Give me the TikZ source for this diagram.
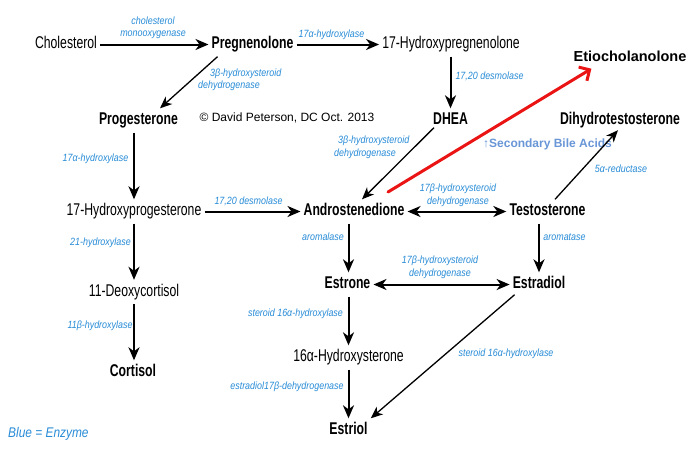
\documentclass[tikz,border=0pt]{standalone}
\usepackage{fontspec}
\setmainfont{Liberation Sans}
\newfontfamily\condfont[FakeStretch=0.72]{Liberation Sans}
\newfontfamily\labfont[FakeStretch=0.85]{Liberation Sans}
\usetikzlibrary{arrows.meta}
\definecolor{enzblue}{RGB}{40,140,215}
\definecolor{bileblue}{RGB}{105,150,215}
\definecolor{redarr}{RGB}{235,20,20}
\begin{document}
\begin{tikzpicture}[x=1pt,y=-1pt,
 mol/.style={font=\condfont\fontsize{17}{20}\selectfont, inner xsep=3pt, inner ysep=4pt, text height=12pt, text depth=4pt, anchor=base},
 bmol/.style={mol, font=\condfont\bfseries\fontsize{17}{20}\selectfont},
 etiostyle/.style={font=\bfseries\fontsize{14.5}{17}\selectfont, inner sep=4pt, text height=11pt, text depth=3pt, anchor=base},
 enz/.style={font=\labfont\itshape\fontsize{10.5}{12.5}\selectfont, text=enzblue, inner sep=0pt, anchor=base, align=center},
 enzl/.style={enz, anchor=base west, align=left},
 arr/.style={line width=2pt, -{Stealth[length=13pt,width=11pt,inset=4pt]}},
 darr/.style={line width=2pt, {Stealth[length=13pt,width=11pt,inset=4pt]}-{Stealth[length=13pt,width=11pt,inset=4pt]}},
 tarr/.style={line width=1.3pt, -{Stealth[length=12pt,width=10pt,inset=3.5pt]}},
 redarrow/.style={line width=3pt, draw=redarr, line cap=round, -{Straight Barb[length=8pt,width=16pt,line width=3pt]}}
]
\fill[white] (0,0) rectangle (700,451);
\useasboundingbox (0,0) rectangle (700,451);

% molecules
\node[mol]  (chol)      at (66,48.5)    {Cholesterol};
\node[bmol] (preg)      at (252.5,48.5) {Pregnenolone};
\node[mol]  (hpreg)     at (451,48.5)   {17-Hydroxypregnenolone};
\node[bmol] (dhea)      at (450.5,124.5){DHEA};
\node[bmol] (prog)      at (138.5,124.5){Progesterone};
\node[mol]  (hprog)     at (134,215.5)  {17-Hydroxyprogesterone};
\node[bmol] (andro)     at (354,215.5)  {Androstenedione};
\node[bmol] (testo)     at (547.5,215.5){Testosterone};
\node[bmol] (estrone)   at (347.5,288.5){Estrone};
\node[bmol] (estradiol) at (539,288.5)  {Estradiol};
\node[mol]  (hest)      at (348.5,361.5){16α-Hydroxysterone};
\node[bmol] (estriol)   at (348.5,434.5){Estriol};
\node[mol]  (deoxy)     at (134,296)    {11-Deoxycortisol};
\node[bmol] (cortisol)  at (133,376.5)  {Cortisol};
\node[bmol] (dht)       at (620,124)    {Dihydrotestosterone};
\node[etiostyle] (etio) at (630,61.5)   {Etiocholanolone};

% other texts
\node[anchor=base, font=\fontsize{12}{14}\selectfont, inner sep=0pt] (copy) at (287,121) {© David Peterson, DC Oct. 2013};
\node[anchor=base, font=\bfseries\fontsize{12}{14}\selectfont, text=bileblue, inner sep=0pt] (bile) at (547.5,147) {↑Secondary Bile Acids};
\node[anchor=base west, font=\labfont\itshape\fontsize{14}{16}\selectfont, text=enzblue, inner sep=0pt] (legend) at (8,437) {Blue = Enzyme};

% enzymes (multi-line: base = last line)
\node[enz] (e1)  at (153,36.5)    {cholesterol\\monooxygenase};
\node[enz] (e2)  at (331.5,37)    {17α-hydroxylase};
\node[enzl] (e3) at (198,88.5)    {\hspace*{12pt}3β-hydroxysteroid\\dehydrogenase};
\node[enz] (e4)  at (489.5,79)    {17,20 desmolase};
\node[enz] (e5)  at (95.5,161.5)  {17α-hydroxylase};
\node[enzl] (e6) at (334,156)     {\hspace*{4pt}3β-hydroxysteroid\\dehydrogenase};
\node[enz] (e7)  at (248.5,204)   {17,20 desmolase};
\node[enz] (e8)  at (458,204)     {17β-hydroxysteroid\\dehydrogenase};
\node[enz] (e9)  at (621,172)     {5α-reductase};
\node[enz] (e10) at (323,240.5)   {aromalase};
\node[enz] (e11) at (564.5,240.5) {aromatase};
\node[enz] (e12) at (440,276)     {17β-hydroxysteroid\\dehydrogenase};
\node[enz] (e13) at (100.5,245)   {21-hydroxylase};
\node[enz] (e14) at (295.5,316.5) {steroid 16α-hydroxylase};
\node[enz] (e15) at (287,389)     {estradiol17β-dehydrogenase};
\node[enz] (e16) at (100,328)     {11β-hydroxylase};
\node[enz] (e17) at (506,356.5)   {steroid 16α-hydroxylase};

% connectors
\draw[arr] (chol) -- (preg);
\draw[arr] (preg) -- (hpreg);
\draw[arr] (hpreg.south -| dhea) -- (dhea.north);
\draw[tarr] ([xshift=9pt]preg.south west) -- ([xshift=21.5pt]prog.north);
\draw[arr] (prog.south -| hprog) -- (hprog.north);
\draw[arr] (hprog) -- (andro);
\draw[tarr] ([xshift=4pt,yshift=5pt]dhea.south west) -- ([xshift=8pt]andro.north);
\draw[darr] (andro) -- (testo);
\draw[tarr] ([xshift=7.5pt]testo.north) -- ([xshift=-2pt,yshift=2pt]dht.south);
\draw[arr] (andro.south -| hest) -- (estrone.north -| hest);
\draw[arr] (testo.south -| estradiol) -- (estradiol.north);
\draw[darr] (estrone) -- (estradiol);
\draw[arr] (estrone.south -| hest) -- (hest.north);
\draw[arr] (hest) -- (estriol);
\draw[tarr] ([xshift=5pt,yshift=2pt]estradiol.south west) -- (estriol.north east);
\draw[arr] (hprog) -- (deoxy);
\draw[arr] (deoxy.south) -- (cortisol.north -| deoxy.south);
\coordinate (redstart) at (388,192);
\draw[redarrow] (redstart) -- ([xshift=22pt]etio.south west);
\end{tikzpicture}
\end{document}
